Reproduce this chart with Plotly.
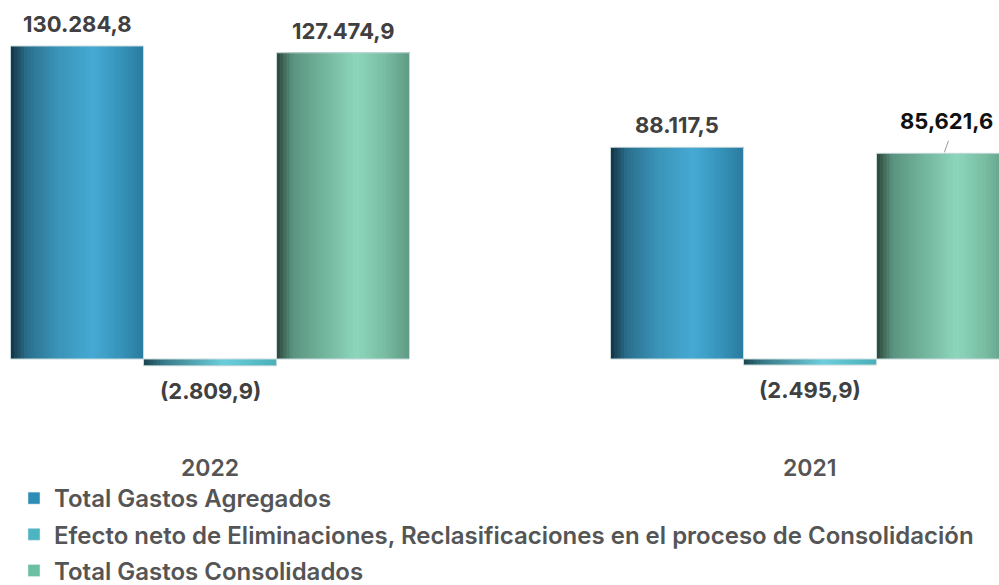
import plotly.graph_objects as go

years = ['2022', '2021']
series_names = ['Total Gastos Agregados',
                'Efecto neto de Eliminaciones, Reclasificaciones en el proceso de Consolidación',
                'Total Gastos Consolidados']
agregados = [130284.8, 88117.5]
eliminaciones = [-2809.9, -2495.9]
consolidados = [127474.9, 85621.6]
label_agregados = ['130.284,8', '88.117,5']
label_eliminaciones = ['(2.809,9)', '(2.495,9)']
label_consolidados = ['127.474,9', '85,621,6']

legend_colors = ['#2e8db5', '#4db5c1', '#6bbfa3']
gradients = [
    [(0.0, '#143242'), (0.12, '#2a6e8c'), (0.35, '#3a93b8'), (0.62, '#46aad4'), (0.8, '#3896bd'), (1.0, '#2b7ba0')],
    [(0.0, '#1a4450'), (0.15, '#3a7a88'), (0.6, '#6ccedb'), (1.0, '#4aafba')],
    [(0.0, '#2c4438'), (0.12, '#5a9480'), (0.35, '#72b49c'), (0.6, '#8cd6bc'), (0.8, '#7bbfa5'), (1.0, '#5f9a84')],
]


def hex2rgb(h):
    h = h.lstrip('#')
    return tuple(int(h[i:i + 2], 16) for i in (0, 2, 4))


def interp(stops, t):
    for (p0, c0), (p1, c1) in zip(stops[:-1], stops[1:]):
        if p0 <= t <= p1:
            f = (t - p0) / (p1 - p0) if p1 > p0 else 0
            a, b = hex2rgb(c0), hex2rgb(c1)
            return 'rgb(%d,%d,%d)' % tuple(round(a[k] + (b[k] - a[k]) * f) for k in range(3))
    return stops[-1][1]


values = [agregados, eliminaciones, consolidados]
labels = [label_agregados, label_eliminaciones, label_consolidados]

bar_w = 133 / 600
group_start = -1.5 * bar_w
N = 40

fig = go.Figure()
for s in range(3):
    off0 = group_start + s * bar_w
    for j in range(N):
        t = (j + 0.5) / N
        fig.add_trace(go.Bar(
            x=years, y=values[s],
            offset=off0 + j * bar_w / N, width=bar_w - j * bar_w / N,
            marker=dict(color=interp(gradients[s], t), line=dict(width=0)),
            showlegend=False, hoverinfo='skip'))
    # outline
    fig.add_trace(go.Bar(
        x=years, y=values[s], offset=off0, width=bar_w,
        marker=dict(color='rgba(0,0,0,0)', line=dict(width=1, color='#c8dadc')),
        showlegend=False, hoverinfo='skip'))
    # legend entry
    fig.add_trace(go.Bar(
        x=[None], y=[None], name=series_names[s],
        marker=dict(color=legend_colors[s]), legendgroup=str(s), showlegend=True))

# value labels
LBL_FONT = 'Inter'
for s in range(3):
    cx_off = group_start + (s + 0.5) * bar_w
    for i, v in enumerate(values[s]):
        txt = labels[s][i]
        if s == 2 and i == 1:
            # leader line + offset label
            fig.add_annotation(x=i + cx_off + 0.0017, y=v, text='', showarrow=True,
                               arrowhead=0, arrowwidth=1, arrowcolor='#9a9a9a',
                               ax=5, ay=-14, standoff=1)
            fig.add_annotation(x=i + cx_off + 0.005, y=v, text='<b>' + txt + '</b>', showarrow=False,
                               yanchor='bottom', yshift=17,
                               font=dict(family=LBL_FONT, size=22, color='#111111'))
        elif v >= 0:
            fig.add_annotation(x=i + cx_off, y=v, text='<b>' + txt + '</b>', showarrow=False,
                               yanchor='bottom', yshift=7,
                               font=dict(family=LBL_FONT, size=22, color='#404040'))
        else:
            fig.add_annotation(x=i + cx_off, y=v, text='<b>' + txt + '</b>', showarrow=False,
                               yanchor='top', yshift=-10,
                               font=dict(family=LBL_FONT, size=22, color='#404040'))

# year labels
for i, yr in enumerate(years):
    fig.add_annotation(x=i, y=-0.17, yref='paper', text=yr, showarrow=False,
                       yanchor='middle',
                       font=dict(family='Inter', size=23, weight=600, color='#555555'))

fig.update_layout(
    width=999, height=585,
    margin=dict(l=0, r=0, t=0, b=185, autoexpand=False),
    plot_bgcolor='white', paper_bgcolor='white',
    barmode='overlay',
    xaxis=dict(type='category', range=[-0.35, 1.315], showticklabels=False,
               showgrid=False, zeroline=False, showline=False, ticks=''),
    yaxis=dict(range=[-17066, 149434], showticklabels=False, showgrid=False,
               zeroline=False, showline=False),
    showlegend=True,
    legend=dict(x=0.014, y=-0.19, xanchor='left', yanchor='top', orientation='v',
                tracegroupgap=2,
                font=dict(family='Inter', size=24, weight=600, color='#555555'),
                bgcolor='rgba(0,0,0,0)'),
)

fig.write_html('out.html', config={'displayModeBar': False},
               post_script="document.body.style.margin='0';document.body.style.overflow='hidden';")
